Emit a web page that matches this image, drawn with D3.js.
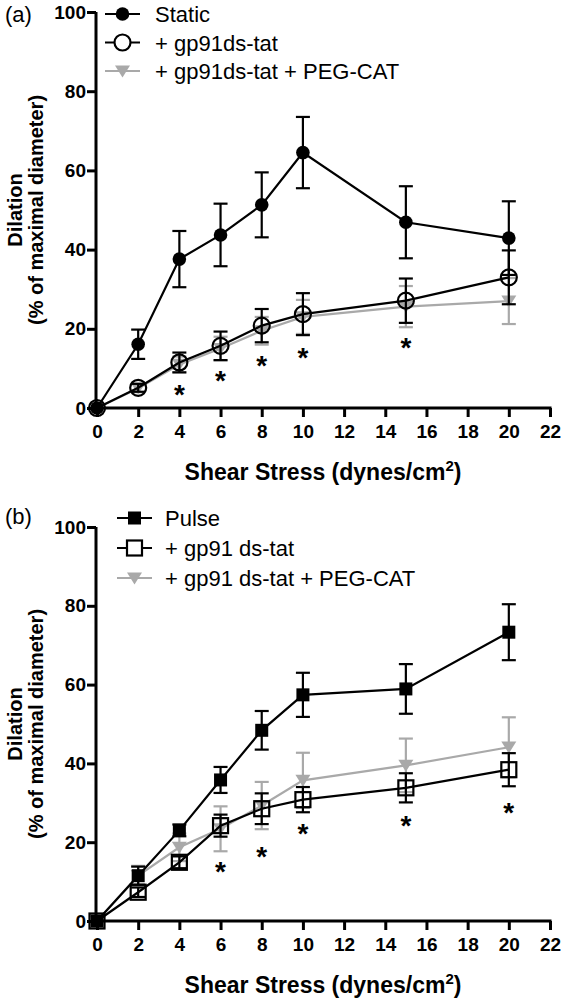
<!DOCTYPE html>
<html>
<head>
<meta charset="utf-8">
<script src="https://cdn.jsdelivr.net/npm/d3@7"></script>
<style>
  html, body { margin: 0; padding: 0; background: #fff; }
  svg { display: block; }
  text { font-family: "Liberation Sans", Arial, Helvetica, sans-serif; }
</style>
</head>
<body>
<svg id="chart" width="566" height="1000"></svg>
<script>
// ---------- DATA ----------
const shear = [0, 2, 4, 6, 8, 10, 15, 20];
const xTicks = [0, 2, 4, 6, 8, 10, 12, 14, 16, 18, 20, 22];
const yTicks = [0, 20, 40, 60, 80, 100];

// Panel (a)
const legendA = ["Static", "+ gp91ds-tat", "+ gp91ds-tat + PEG-CAT"];
const staticMean = [0, 16.1, 37.6, 43.7, 51.3, 64.5, 46.9, 42.9];
const staticErr  = [0, 3.7, 7.1, 7.9, 8.2, 9.0, 9.1, 9.3];
const gp91aMean  = [0, 5.1, 11.5, 15.7, 20.8, 23.7, 27.1, 33.0];
const gp91aErr   = [0, 1.0, 2.5, 3.6, 4.2, 5.3, 5.6, 6.8];
const pegaMean   = [0, 5.0, 11.0, 15.0, 19.5, 23.0, 25.6, 27.0];
const pegaErr    = [0, 1.0, 2.0, 3.0, 3.5, 4.3, 5.2, 5.8];
const starAx = [4, 6, 8, 10, 15];
const starAy = [5.1, 8.5, 12.4, 14.4, 17.0];

// Panel (b)
const legendB = ["Pulse", "+ gp91 ds-tat", "+ gp91 ds-tat + PEG-CAT"];
const pulseMean = [0, 11.5, 23.0, 35.8, 48.4, 57.4, 58.9, 73.3];
const pulseErr  = [0, 2.3, 1.5, 3.3, 4.9, 5.6, 6.3, 7.1];
const gp91bMean = [0, 7.3, 14.9, 24.2, 28.5, 30.8, 33.8, 38.4];
const gp91bErr  = [0, 1.2, 1.5, 2.8, 3.9, 3.2, 3.7, 4.2];
const pegbMean  = [0, 11.5, 18.7, 23.4, 29.3, 35.7, 39.5, 44.1];
const pegbErr   = [0, 2.5, 3.5, 5.7, 6.0, 7.0, 6.8, 7.6];
const starBx = [6, 8, 10, 15, 20];
const starBy = [14.1, 18.1, 23.8, 25.9, 29.3];

// ---------- DRAWING ----------
const svg = d3.select("#chart");
const GRAY = "#a9a9a9";

function zip(xs, ms, es) { return xs.map((x, i) => ({x, m: ms[i], e: es[i]})); }

function marker(g, type, cx, cy, color) {
  if (type === "fcircle") {
    g.append("circle").attr("cx", cx).attr("cy", cy).attr("r", 6.8).attr("fill", "#000");
  } else if (type === "ocircle") {
    g.append("circle").attr("cx", cx).attr("cy", cy).attr("r", 8).attr("fill", "none")
      .attr("stroke", "#000").attr("stroke-width", 2.2);
  } else if (type === "fsquare") {
    g.append("rect").attr("x", cx - 6.5).attr("y", cy - 6.5).attr("width", 13).attr("height", 13).attr("fill", "#000");
  } else if (type === "osquare") {
    g.append("rect").attr("x", cx - 7.5).attr("y", cy - 7.5).attr("width", 15).attr("height", 15).attr("fill", "none")
      .attr("stroke", "#000").attr("stroke-width", 2.2);
  } else if (type === "tri") {
    const s = 7.5;
    g.append("path").attr("d", `M${cx - s},${cy - s * 0.75}L${cx + s},${cy - s * 0.75}L${cx},${cy + s * 0.85}Z`)
      .attr("fill", color);
  }
}

function panel(opts) {
  const x = d3.scaleLinear().domain([0, 22]).range([97, 550]);
  const y = d3.scaleLinear().domain([0, 100]).range([opts.y0, opts.y100]);
  const g = svg.append("g");

  // y-axis
  const ya = g.append("g").attr("transform", "translate(96,0)")
    .call(d3.axisLeft(y).tickValues(yTicks).tickSize(9).tickPadding(1).tickSizeOuter(0));
  // x-axis
  const xa = g.append("g").attr("transform", `translate(0,${opts.y0})`)
    .call(d3.axisBottom(x).tickValues(xTicks).tickSize(9).tickPadding(8).tickSizeOuter(0));
  [ya, xa].forEach(a => {
    a.select(".domain").attr("stroke", "#000").attr("stroke-width", 3);
    a.selectAll(".tick line").attr("stroke", "#000").attr("stroke-width", 3);
    a.selectAll(".tick text").attr("fill", "#000").attr("font-size", 19).attr("font-weight", "bold")
      .style("font-family", '"Liberation Sans", Arial, sans-serif');
  });
  ya.select(".domain").attr("d", `M0,${opts.y0 + 1.5}V${opts.y100}`);
  xa.select(".domain").attr("d", `M94.5,0H551.5`);

  // axis titles
  g.append("text").attr("x", 323).attr("y", opts.y0 + 72).attr("text-anchor", "middle")
    .attr("font-size", 23).attr("font-weight", "bold")
    .text("Shear Stress (dynes/cm")
    .append("tspan").attr("font-size", 15).attr("dy", -9).text("2")
    .select(function () { return this.parentNode; })
    .append("tspan").attr("dy", 9).text(")");
  const yc = (opts.y0 + opts.y100) / 2;
  g.append("text").attr("transform", `translate(22,${yc}) rotate(-90)`).attr("text-anchor", "middle")
    .attr("font-size", 20).attr("font-weight", "bold").text("Dilation");
  g.append("text").attr("transform", `translate(43,${yc}) rotate(-90)`).attr("text-anchor", "middle")
    .attr("font-size", 20).attr("font-weight", "bold").text("(% of maximal diameter)");

  // panel label
  g.append("text").attr("x", 5).attr("y", opts.labelY + 8).attr("font-size", 22).text(opts.label);

  // series
  const line = d3.line().x(d => x(d.x)).y(d => y(d.m));
  opts.series.forEach(s => {
    const data = zip(shear, s.mean, s.err);
    const sg = g.append("g");
    sg.append("path").datum(data).attr("d", line).attr("fill", "none")
      .attr("stroke", s.color).attr("stroke-width", 2.2);
    data.filter(d => d.e > 0).forEach(d => {
      const x0 = x(d.x), yt = y(d.m + d.e), yb = y(d.m - d.e);
      sg.append("line").attr("x1", x0).attr("x2", x0).attr("y1", yt).attr("y2", yb)
        .attr("stroke", s.color).attr("stroke-width", 2.2);
      [yt, yb].forEach(yy => sg.append("line").attr("x1", x0 - 7).attr("x2", x0 + 7)
        .attr("y1", yy).attr("y2", yy).attr("stroke", s.color).attr("stroke-width", 2.2));
    });
    data.forEach(d => marker(sg, s.marker, x(d.x), y(d.m), s.color));
  });

  // asterisks
  opts.starX.forEach((sx, i) => {
    g.append("text").attr("x", x(sx)).attr("y", y(opts.starY[i]) + 16).attr("text-anchor", "middle")
      .attr("font-size", 28).attr("font-weight", "bold").text("*");
  });

  // legend
  opts.legend.forEach((name, i) => {
    const s = opts.legendSeries[i];
    const ly = opts.legY[i];
    g.append("line").attr("x1", opts.legX0).attr("x2", opts.legX0 + 35).attr("y1", ly).attr("y2", ly)
      .attr("stroke", s.color).attr("stroke-width", 2.2);
    if (s.marker === "ocircle" || s.marker === "osquare") {
      const lg = g.append("g");
      marker(lg, s.marker, opts.legX0 + 17.5, ly, s.color);
      lg.select("circle, rect").attr("fill", "#fff");
    } else {
      marker(g, s.marker, opts.legX0 + 17.5, ly, s.color);
    }
    g.append("text").attr("x", opts.legTextX).attr("y", ly + 8).attr("font-size", 22).text(name);
  });
}

const seriesA = [
  {mean: pegaMean, err: pegaErr, color: GRAY, marker: "tri"},
  {mean: staticMean, err: staticErr, color: "#000", marker: "fcircle"},
  {mean: gp91aMean, err: gp91aErr, color: "#000", marker: "ocircle"}
];
panel({
  y0: 408, y100: 12, label: "(a)", labelY: 14,
  series: seriesA, starX: starAx, starY: starAy,
  legend: legendA, legendSeries: [seriesA[1], seriesA[2], seriesA[0]],
  legY: [14, 42.5, 71], legX0: 105, legTextX: 155
});

const seriesB = [
  {mean: pegbMean, err: pegbErr, color: GRAY, marker: "tri"},
  {mean: pulseMean, err: pulseErr, color: "#000", marker: "fsquare"},
  {mean: gp91bMean, err: gp91bErr, color: "#000", marker: "osquare"}
];
panel({
  y0: 921, y100: 527, label: "(b)", labelY: 516,
  series: seriesB, starX: starBx, starY: starBy,
  legend: legendB, legendSeries: [seriesB[1], seriesB[2], seriesB[0]],
  legY: [518, 548, 578], legX0: 117, legTextX: 165
});
</script>
</body>
</html>
